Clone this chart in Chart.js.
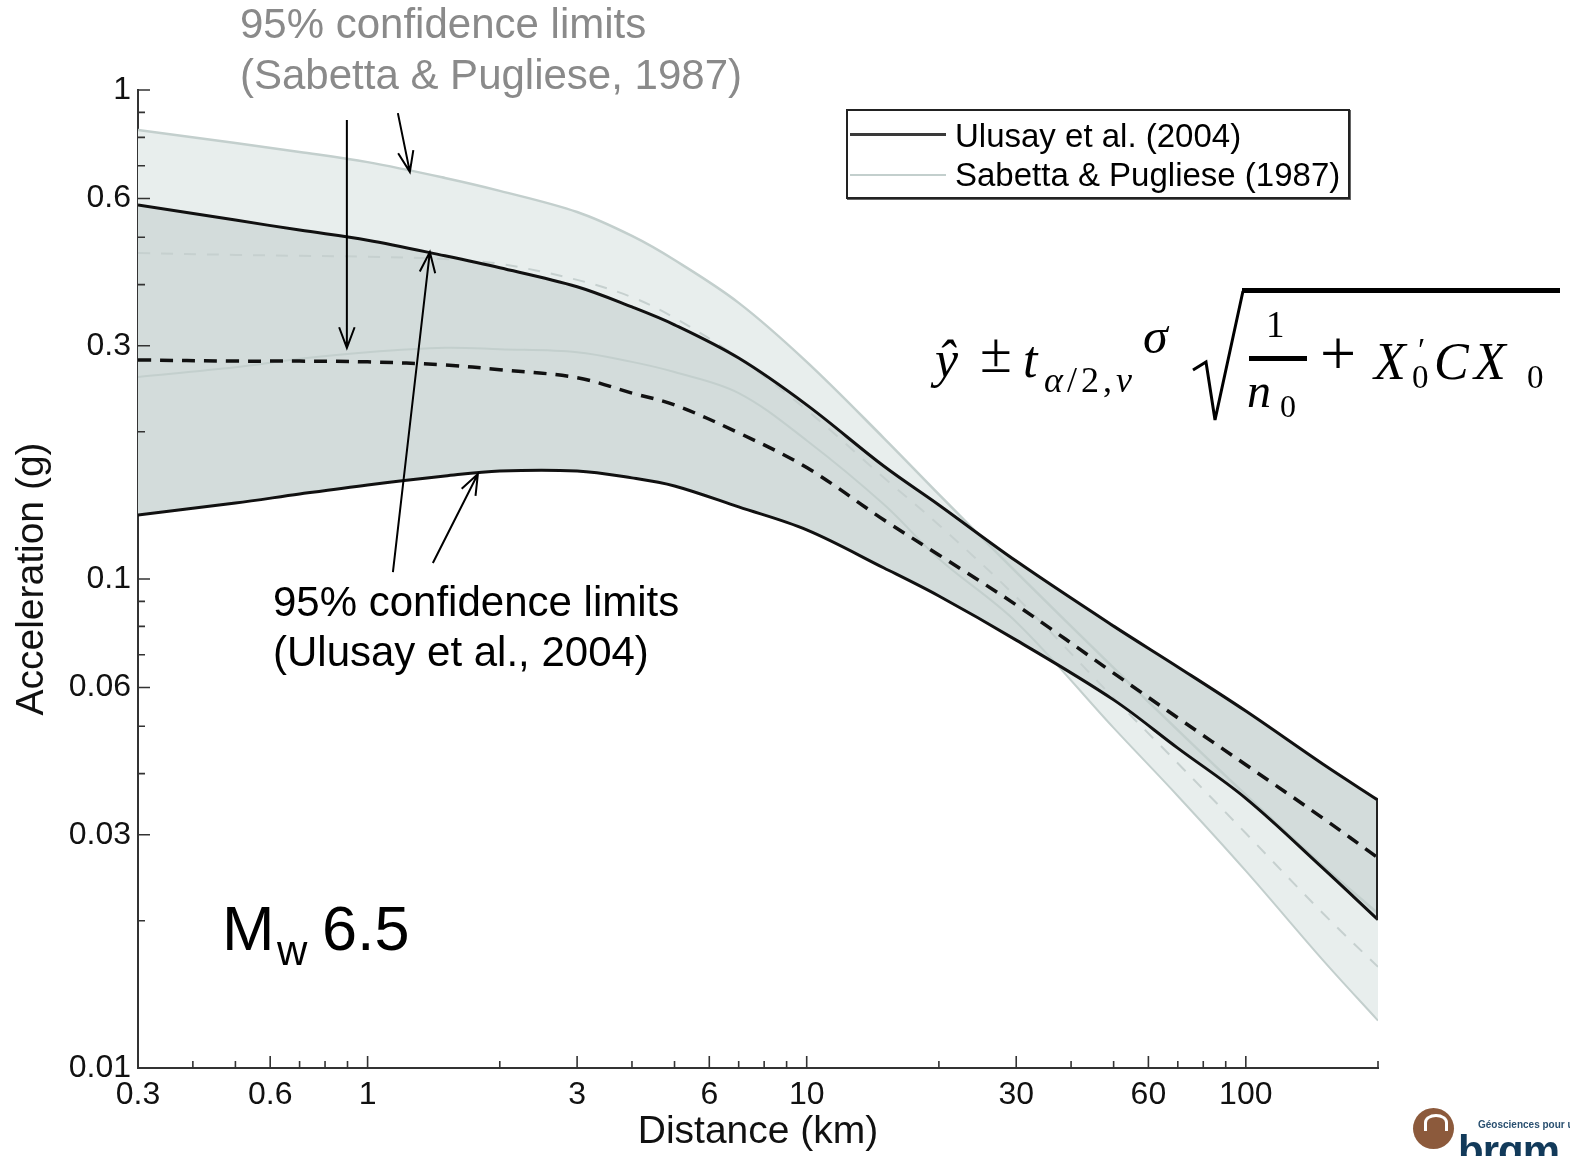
<!DOCTYPE html>
<html><head><meta charset="utf-8">
<script src="https://cdn.jsdelivr.net/npm/chart.js@4.4.1/dist/chart.umd.min.js"></script>
<style>
html,body{margin:0;padding:0;background:#fff;}
#wrap{position:relative;width:1570px;height:1156px;overflow:hidden;background:#fff;}
#c{position:absolute;left:0;top:0;}
.t{position:absolute;white-space:nowrap;font-family:'Liberation Sans',Arial,sans-serif;line-height:1;}
.f{position:absolute;white-space:nowrap;font-family:'Liberation Serif','Times New Roman',serif;line-height:1;color:#000;}
.i{font-style:italic;}
#legend{position:absolute;left:846px;top:109px;width:500px;height:86px;border:2px solid #222;background:#fff;box-shadow:1px 1px 0 #666;}
.lg{position:absolute;height:0;}
</style></head><body>
<div id="wrap">
<canvas id="c" width="1570" height="1156"></canvas>

<div class="t" style="left:240px;top:3px;font-size:42px;color:#8a8a8a;">95% confidence limits</div>
<div class="t" style="left:240px;top:54px;font-size:42px;color:#8a8a8a;">(Sabetta &amp; Pugliese, 1987)</div>
<div class="t" style="left:273px;top:581px;font-size:42px;color:#000;">95% confidence limits</div>
<div class="t" style="left:273px;top:631px;font-size:42px;color:#000;">(Ulusay et al., 2004)</div>
<div class="t" style="left:222px;top:897px;font-size:63px;color:#000;">M</div>
<div class="t" style="left:277px;top:930px;font-size:42px;color:#000;">w</div>
<div class="t" style="left:322px;top:897px;font-size:63px;color:#000;">6.5</div>

<div id="legend">
  <div class="lg" style="left:2px;top:22px;width:96px;border-top:3px solid #3a3a3a;"></div>
  <div class="lg" style="left:2px;top:63px;width:96px;border-top:2px solid #c3cfcd;"></div>
  <div class="t" style="left:107px;top:8px;font-size:33px;color:#000;">Ulusay et al. (2004)</div>
  <div class="t" style="left:107px;top:47px;font-size:33px;color:#000;">Sabetta &amp; Pugliese (1987)</div>
</div>

<!-- formula -->
<div class="f i" style="left:935px;top:334px;font-size:52px;">ŷ</div>
<div class="f" style="left:980px;top:324px;font-size:58px;">±</div>
<div class="f i" style="left:1023px;top:334px;font-size:52px;">t</div>
<div class="f" style="left:1044px;top:362px;font-size:36px;letter-spacing:4px;"><i>α</i>/2,<i>ν</i></div>
<div class="f i" style="left:1143px;top:311px;font-size:50px;">σ</div>
<svg style="position:absolute;left:0;top:0;" width="1570" height="1156">
  <polyline points="1193,370 1206,362 1215,420 1243,291" fill="none" stroke="#000" stroke-width="3" stroke-linejoin="miter"/>
  <rect x="1242" y="288" width="318" height="5" fill="#000"/>
  <rect x="1249" y="356" width="58" height="5" fill="#000"/>
</svg>
<div class="f" style="left:1266px;top:306px;font-size:37px;">1</div>
<div class="f i" style="left:1247px;top:367px;font-size:48px;">n</div>
<div class="f" style="left:1280px;top:390px;font-size:32px;">0</div>
<div class="f" style="left:1320px;top:322px;font-size:64px;">+</div>
<div class="f i" style="left:1374px;top:336px;font-size:52px;">X</div>
<div class="f" style="left:1418px;top:334px;font-size:33px;">′</div>
<div class="f" style="left:1412px;top:361px;font-size:33px;">0</div>
<div class="f i" style="left:1434px;top:336px;font-size:52px;">C</div>
<div class="f i" style="left:1474px;top:336px;font-size:52px;">X</div>
<div class="f" style="left:1527px;top:361px;font-size:33px;">0</div>

<!-- logo -->
<div style="position:absolute;left:1413px;top:1108px;width:41px;height:41px;border-radius:50%;background:#8c5a3c;"></div>
<div style="position:absolute;left:1424px;top:1114px;width:18px;height:14px;border-radius:50% 50% 0 0;border:3px solid #fff;border-bottom:none;"></div>
<div class="t" style="left:1478px;top:1120px;font-size:10px;font-weight:bold;color:#2a5070;">Géosciences pour une Terre durable</div>
<div class="t" style="left:1458px;top:1130px;font-size:42px;font-weight:bold;color:#123a5a;letter-spacing:-1px;">brgm</div>
</div>

<script>
// ---- data ----
const distanceKm    = [0.3, 0.5, 0.7, 1, 1.5, 2, 3, 4, 5, 7, 10, 15, 20, 30, 50, 70, 100, 150, 200];
const ulusayUpper   = [0.582, 0.542, 0.517, 0.493, 0.458, 0.433, 0.396, 0.360, 0.331, 0.283, 0.227, 0.170, 0.1417, 0.1088, 0.0801, 0.0661, 0.0537, 0.0418, 0.0353];
const ulusayMedian  = [0.2805, 0.279, 0.279, 0.278, 0.274, 0.268, 0.258, 0.240, 0.227, 0.199, 0.169, 0.132, 0.112, 0.0885, 0.0642, 0.052, 0.0417, 0.0324, 0.0269];
const ulusayLower   = [0.1352, 0.143, 0.1492, 0.1557, 0.1624, 0.1663, 0.1663, 0.161, 0.155, 0.1404, 0.126, 0.1053, 0.0923, 0.075, 0.0566, 0.0451, 0.0356, 0.0256, 0.0201];
const sabettaUpper  = [0.828, 0.779, 0.747, 0.712, 0.661, 0.622, 0.563, 0.503, 0.449, 0.367, 0.278, 0.194, 0.149, 0.1033, 0.0658, 0.0491, 0.0362, 0.0259, 0.0207];
const sabettaMedian = [0.464, 0.460, 0.458, 0.456, 0.451, 0.441, 0.409, 0.377, 0.342, 0.283, 0.2216, 0.161, 0.129, 0.0919, 0.0571, 0.042, 0.0302, 0.0207, 0.0161];
const sabettaLower  = [0.259, 0.271, 0.282, 0.291, 0.297, 0.295, 0.291, 0.278, 0.265, 0.240, 0.192, 0.142, 0.110, 0.0817, 0.0496, 0.036, 0.0253, 0.0166, 0.0125];
const xTickLabels = [0.3, 0.6, 1, 3, 6, 10, 30, 60, 100];
const yTickLabels = [0.01, 0.03, 0.06, 0.1, 0.3, 0.6, 1];
// annotation arrows: tail and tip in data coordinates [km, g]
const arrowTails = [[0.897, 0.868], [1.172, 0.897], [1.142, 0.1033], [1.408, 0.1078]];
const arrowTips  = [[0.897, 0.297], [1.248, 0.680], [1.386, 0.4664], [1.783, 0.164]];

const pts = arr => distanceKm.map((d, i) => ({x: d, y: arr[i]}));
const MED = '#d3dcdb', LIGHT = '#e8eeed';

const near = (v, list) => list.some(l => Math.abs(Math.log10(v) - Math.log10(l)) < 1e-6);

const inwardTicks = {
  id: 'inwardTicks',
  afterDatasetsDraw(chart) {
    const {ctx, chartArea: a, scales: {x, y}} = chart;
    ctx.save();
    ctx.strokeStyle = '#333';
    ctx.lineWidth = 1.6;
    ctx.beginPath();
    for (let d = -2; d < 0; d++) for (let m = 1; m < 10; m++) {
      const v = m * Math.pow(10, d);
      const p = y.getPixelForValue(v);
      const len = near(v, yTickLabels) ? 12 : 7;
      ctx.moveTo(a.left, p); ctx.lineTo(a.left + len, p);
    }
    ctx.moveTo(a.left, y.getPixelForValue(1)); ctx.lineTo(a.left + 12, y.getPixelForValue(1));
    for (let d = -1; d < 3; d++) for (let m = 1; m < 10; m++) {
      const v = m * Math.pow(10, d);
      if (v < 0.3 - 1e-9 || v > 200 + 1e-9) continue;
      const p = x.getPixelForValue(v);
      const len = near(v, xTickLabels) ? 12 : 7;
      ctx.moveTo(p, a.bottom); ctx.lineTo(p, a.bottom - len);
    }
    ctx.stroke();
    // closing edge of the Ulusay band at the last distance
    const n = distanceKm.length - 1;
    const xe = x.getPixelForValue(distanceKm[n]);
    ctx.strokeStyle = '#222'; ctx.lineWidth = 2;
    ctx.beginPath();
    ctx.moveTo(xe - 1, y.getPixelForValue(ulusayUpper[n]));
    ctx.lineTo(xe - 1, y.getPixelForValue(ulusayLower[n]));
    ctx.stroke();
    ctx.restore();
  }
};

const arrowPlugin = {
  id: 'arrowPlugin',
  afterDatasetsDraw(chart) {
    const {ctx, scales: {x, y}} = chart;
    ctx.save();
    ctx.strokeStyle = '#000';
    ctx.lineWidth = 2;
    arrowTails.forEach((t, i) => {
      const x0 = x.getPixelForValue(t[0]), y0 = y.getPixelForValue(t[1]);
      const x1 = x.getPixelForValue(arrowTips[i][0]), y1 = y.getPixelForValue(arrowTips[i][1]);
      const ang = Math.atan2(y1 - y0, x1 - x0);
      const h = 22, w = 0.36;
      ctx.beginPath();
      ctx.moveTo(x0, y0); ctx.lineTo(x1, y1);
      ctx.moveTo(x1 - h * Math.cos(ang - w), y1 - h * Math.sin(ang - w));
      ctx.lineTo(x1, y1);
      ctx.lineTo(x1 - h * Math.cos(ang + w), y1 - h * Math.sin(ang + w));
      ctx.stroke();
    });
    ctx.restore();
  }
};

const base = {pointRadius: 0, pointHoverRadius: 0, tension: 0.35};

new Chart(document.getElementById('c'), {
  type: 'line',
  data: {
    datasets: [
      {...base, label: 'Ulusay et al. (2004) upper', data: pts(ulusayUpper), borderColor: '#111', borderWidth: 3, fill: 2, backgroundColor: MED},
      {...base, label: 'Ulusay et al. (2004)', data: pts(ulusayMedian), borderColor: '#111', borderWidth: 3.5, borderDash: [13, 9], fill: false},
      {...base, label: 'Ulusay et al. (2004) lower', data: pts(ulusayLower), borderColor: '#111', borderWidth: 3, fill: false},
      {...base, label: 'Sabetta & Pugliese (1987) upper', data: pts(sabettaUpper), borderColor: '#c3cfcd', borderWidth: 2.5, fill: 5, backgroundColor: LIGHT},
      {...base, label: 'Sabetta & Pugliese (1987)', data: pts(sabettaMedian), borderColor: '#c6d0cf', borderWidth: 2, borderDash: [12, 11], fill: false},
      {...base, label: 'Sabetta & Pugliese (1987) lower', data: pts(sabettaLower), borderColor: '#c3cfcd', borderWidth: 2, fill: false}
    ]
  },
  options: {
    responsive: false,
    animation: false,
    events: [],
    layout: {padding: {left: 0, top: 90, right: 192, bottom: 0}},
    plugins: {
      legend: {display: false},
      tooltip: {enabled: false},
      filler: {drawTime: 'beforeDatasetsDraw', propagate: false}
    },
    scales: {
      x: {
        type: 'logarithmic', min: 0.3, max: 200,
        afterFit: s => { s.height = 88; },
        afterBuildTicks: s => { s.ticks = xTickLabels.map(v => ({value: v})); },
        ticks: {autoSkip: false, maxRotation: 0, padding: 8, color: '#111',
          font: {family: "'Liberation Sans', Arial, sans-serif", size: 32},
          callback: v => String(v)},
        grid: {display: true, drawOnChartArea: false, drawTicks: false, color: 'rgba(0,0,0,0)'},
        border: {display: true, color: '#333', width: 2},
        title: {display: true, text: 'Distance (km)', color: '#111',
          font: {family: "'Liberation Sans', Arial, sans-serif", size: 39, lineHeight: 1.2},
          padding: {top: 0, bottom: 0}}
      },
      y: {
        type: 'logarithmic', min: 0.01, max: 1,
        afterFit: s => { s.width = 138; },
        afterBuildTicks: s => { s.ticks = yTickLabels.map(v => ({value: v})); },
        ticks: {autoSkip: false, padding: 7, color: '#111',
          font: {family: "'Liberation Sans', Arial, sans-serif", size: 32},
          callback: v => String(v)},
        grid: {display: true, drawOnChartArea: false, drawTicks: false, color: 'rgba(0,0,0,0)'},
        border: {display: true, color: '#333', width: 2},
        title: {display: true, text: 'Acceleration (g)', color: '#111',
          font: {family: "'Liberation Sans', Arial, sans-serif", size: 39, lineHeight: 1.2},
          padding: {top: 9, bottom: 0}}
      }
    }
  },
  plugins: [inwardTicks, arrowPlugin]
});
</script>
</body></html>
